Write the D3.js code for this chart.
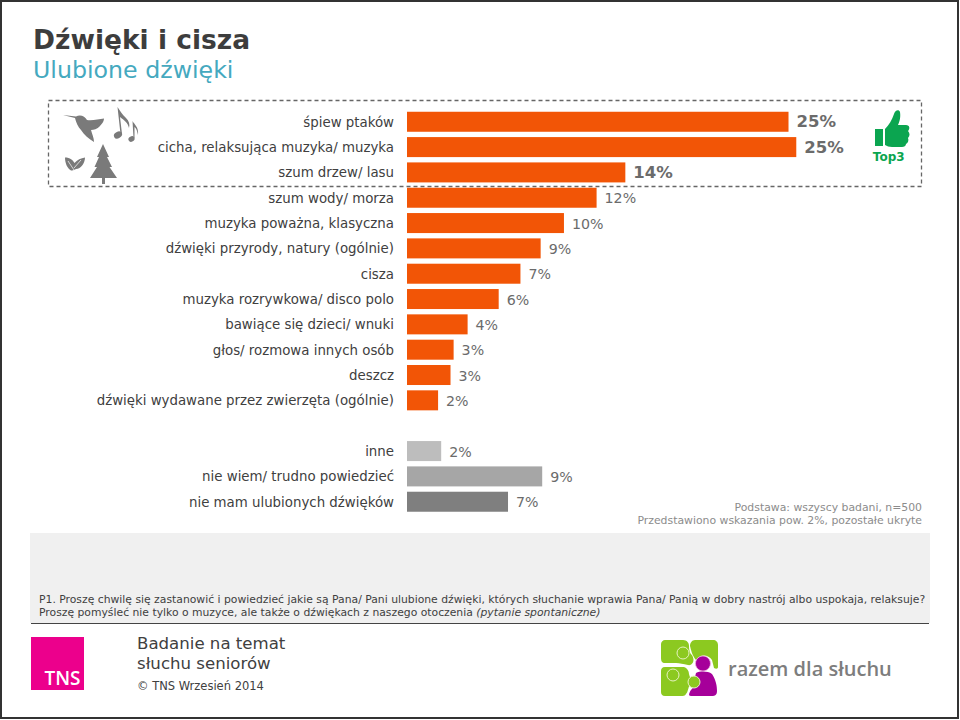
<!DOCTYPE html>
<html><head><meta charset="utf-8">
<script src="https://cdn.jsdelivr.net/npm/d3@7/dist/d3.min.js"></script>
<style>html,body{margin:0;padding:0;background:#fff}svg{display:block}text{font-family:"DejaVu Sans",Verdana,sans-serif}</style>
</head><body><svg id="c" width="960" height="720"></svg>
<script>
const mainCategories=["śpiew ptaków","cicha, relaksująca muzyka/ muzyka","szum drzew/ lasu","szum wody/ morza","muzyka poważna, klasyczna","dźwięki przyrody, natury (ogólnie)","cisza","muzyka rozrywkowa/ disco polo","bawiące się dzieci/ wnuki","głos/ rozmowa innych osób","deszcz","dźwięki wydawane przez zwierzęta (ogólnie)"];
const mainValues=[24.55,25.05,14.05,12.2,10.1,8.6,7.3,5.9,3.9,3.0,2.8,2.0];
const otherCategories=["inne","nie wiem/ trudno powiedzieć","nie mam ulubionych dźwięków"];
const otherValues=[2.2,8.7,6.5];
const otherColors=["#bdbdbd","#a6a6a6","#7f7f7f"];
const orange="#f25506", labelGrey="#404040", valueGrey="#6b6b6b";

const svg=d3.select("#c");
svg.append("rect").attr("x",1).attr("y",1).attr("width",957).attr("height",717).attr("fill","#fff").attr("stroke","#333").attr("stroke-width",2);

svg.append("text").attr("x",33).attr("y",49).attr("font-size",26.5).attr("font-weight","bold").attr("fill","#3d3d3d").text("Dźwięki i cisza");
svg.append("text").attr("x",33).attr("y",78).attr("font-size",23.7).attr("fill","#45a9bf").text("Ulubione dźwięki");

const x=d3.scaleLinear().domain([0,25]).range([407,795.5]);
const y=d3.scaleBand().domain(mainCategories).range([109.1,413]).paddingInner(0.21).paddingOuter(0.105);
const y2=d3.scaleBand().domain(otherCategories).range([438.4,514.4]).paddingInner(0.21).paddingOuter(0.105);

// dashed Top3 box
svg.append("rect").attr("x",48.5).attr("y",100.5).attr("width",873).attr("height",86).attr("fill","none").attr("stroke","#666").attr("stroke-width",1.3).attr("stroke-dasharray","4 3");

function bars(cats,vals,sc,color,boldN){
  const g=svg.append("g");
  g.selectAll("rect").data(cats).join("rect").attr("x",x(0)).attr("y",d=>sc(d)).attr("height",sc.bandwidth())
   .attr("width",(d,i)=>x(vals[i])-x(0)).attr("fill",(d,i)=>color(i));
  g.selectAll("text.l").data(cats).join("text").attr("class","l").attr("x",394).attr("y",d=>sc(d)+sc.bandwidth()/2+5)
   .attr("text-anchor","end").attr("font-size",13.35).attr("fill",labelGrey).text(d=>d);
  g.selectAll("text.v").data(cats).join("text").attr("class","v").attr("x",(d,i)=>x(vals[i])+8)
   .attr("y",d=>sc(d)+sc.bandwidth()/2+5.5).attr("font-size",(d,i)=>i<boldN?16.5:14.2).attr("font-weight",(d,i)=>i<boldN?"bold":"normal")
   .attr("fill",valueGrey).text((d,i)=>d3.format(".0f")(vals[i])+"%");
}
bars(mainCategories,mainValues,y,()=>orange,3);
bars(otherCategories,otherValues,y2,i=>otherColors[i],0);

// Top3 thumb
const thumb=svg.append("g").attr("fill","#0ba550");
thumb.append("rect").attr("x",875).attr("y",129).attr("width",8).attr("height",17);
thumb.append("path").attr("d","M885 129 C889 125 892 120 894 114 C895 110 899 109 900 112 C901 118 899 123 898 125 L906 125 C910 125 910 129 908 131 C910 133 910 136 908 138 C909 140 908 143 906 144 C906 146 904 147 902 147 L892 147 C889 147 887 146 885 145 Z");
svg.append("text").attr("x",888.7).attr("y",160.5).attr("text-anchor","middle").attr("font-size",12).attr("font-weight","bold").attr("fill","#0ba550").text("Top3");

// grey nature icons
const ic=svg.append("g").attr("fill","#7a7a7a");
ic.append("path").attr("d","M63 115 L76 116.5 C80 114 85 116 87 120 C92 121 99 119 104 118.5 C104 122 101 125 99 127 C97 129 94 130 91 130 C92 134 94 138 94 142 C89 139 84 135 81 130 C78 127 76 122 75 118 Z");
ic.append("ellipse").attr("cx",118).attr("cy",135).attr("rx",4.3).attr("ry",3.2).attr("transform","rotate(-30 118 135)");
ic.append("path").attr("d","M120.5 134 L117.5 107 C120 111 122 114 126 118 C129 121 130 124 129 128 C128 123 124 120 120 117 L122 134 Z");
ic.append("ellipse").attr("cx",131.5).attr("cy",139).attr("rx",3.2).attr("ry",2.6).attr("transform","rotate(-30 131.5 139)");
ic.append("path").attr("d","M133.5 138 L132.5 121 C134 124 139 127 138 135 C137 130 136 128 134.5 127 L134.5 138 Z");
ic.append("path").attr("d","M103 144 L109 157 L107 157 L112 167 L109.5 167 L117 178 L105 178 L105 184 L102 184 L102 178 L90 178 L97 167 L94.5 167 L99 157 L97 157 Z");
ic.append("path").attr("d","M65 157.5 C70 157.5 73 160 74.5 163 C77 160 81 158 85 157.5 C85 163 81 169 76 169 C74 170 72 170.5 71 170.5 C67 168 65 163 65 157.5 Z");
svg.append("path").attr("d","M68 161 L74 170 M74 168 L81 160").attr("stroke","#fff").attr("stroke-width",0.7).attr("fill","none");

// note box
svg.append("text").attr("x",922).attr("y",510.5).attr("text-anchor","end").attr("font-size",10.85).attr("fill","#8c8c8c").text("Podstawa: wszyscy badani, n=500");
svg.append("text").attr("x",922).attr("y",524).attr("text-anchor","end").attr("font-size",10.85).attr("fill","#8c8c8c").text("Przedstawiono wskazania pow. 2%, pozostałe ukryte");

svg.append("rect").attr("x",30).attr("y",533).attr("width",900).attr("height",90).attr("fill","#f0f0f0");
svg.append("line").attr("x1",31).attr("x2",929).attr("y1",623.5).attr("y2",623.5).attr("stroke","#444").attr("stroke-width",1.2);
svg.append("text").attr("x",39).attr("y",603).attr("font-size",10.8).attr("fill","#404040").text("P1. Proszę chwilę się zastanowić i powiedzieć jakie są Pana/ Pani ulubione dźwięki, których słuchanie wprawia Pana/ Panią w dobry nastrój albo uspokaja, relaksuje?");
const q2=svg.append("text").attr("x",39).attr("y",616).attr("font-size",10.8).attr("fill","#404040");
q2.append("tspan").text("Proszę pomyśleć nie tylko o muzyce, ale także o dźwiękach z naszego otoczenia ");
q2.append("tspan").attr("font-style","italic").text("(pytanie spontaniczne)");

// footer
svg.append("rect").attr("x",31).attr("y",637).attr("width",53).attr("height",53).attr("fill","#ec008c");
svg.append("text").attr("x",80.5).attr("y",685).attr("text-anchor","end").attr("style","font-family:'Open Sans'").attr("font-weight",600).attr("font-size",19).attr("fill","#fff").text("TNS");
svg.append("text").attr("x",137).attr("y",649).attr("font-size",16.6).attr("fill","#404040").text("Badanie na temat");
svg.append("text").attr("x",137).attr("y",669).attr("font-size",16.6).attr("fill","#404040").text("słuchu seniorów");
svg.append("text").attr("x",137).attr("y",690).attr("font-size",11.5).attr("fill","#404040").text("© TNS Wrzesień 2014");

// razem dla słuchu logo
const lg=svg.append("g");
const green="#8cc920", purple="#a6009a", pale="#e6f2c0";
lg.append("path").attr("fill",green).attr("d","M665 640 H683 C687 640 689 643 689 646 C689 650 690 654 692 655 C696 662 691 666 688 665 C683 664 680 663 676 663 L665 663 C662 663 661 661 661 658 V644 C661 642 663 640 665 640 Z");
lg.append("path").attr("fill",green).attr("d","M695 640 H713 C716 640 718 642 718 645 V667 C718 669 716 669 714 668 L712 660 C708 654 700 654 696 660 C692 655 691 650 690 646 C690 643 692 640 695 640 Z");
lg.append("path").attr("fill",green).attr("d","M665 667 H684 C687 668 689 671 689 674 C690 678 692 680 690 684 C688 688 688 692 686 694 C685 696 683 696 681 696 H665 C662 696 661 694 661 692 V671 C661 669 662 667 665 667 Z");
lg.append("path").attr("fill",purple).attr("stroke","#f0b8e0").attr("stroke-width",0.8).attr("d","M703 656 A7.5 7.5 0 1 1 702.9 656 Z");
lg.append("path").attr("fill",purple).attr("d","M696 673 C700 671 708 671 712 674 C716 680 717 686 717 691 C717 695 715 696 712 696 H691 C688 696 689 693 691 690 C695 686 697 681 695 677 Z");
lg.selectAll("circle").data([[683,653,6],[673,675,6],[694,682,6]]).join("circle").attr("cx",d=>d[0]).attr("cy",d=>d[1]).attr("r",d=>d[2]).attr("fill",(d,i)=>i==2?green:"none").attr("stroke",pale).attr("stroke-width",1);
svg.append("text").attr("x",728).attr("y",676).attr("font-size",20).attr("font-weight",600).attr("style","font-family:'Open Sans'").attr("fill","#7d7d7d").text("razem dla słuchu");
</script></body></html>
